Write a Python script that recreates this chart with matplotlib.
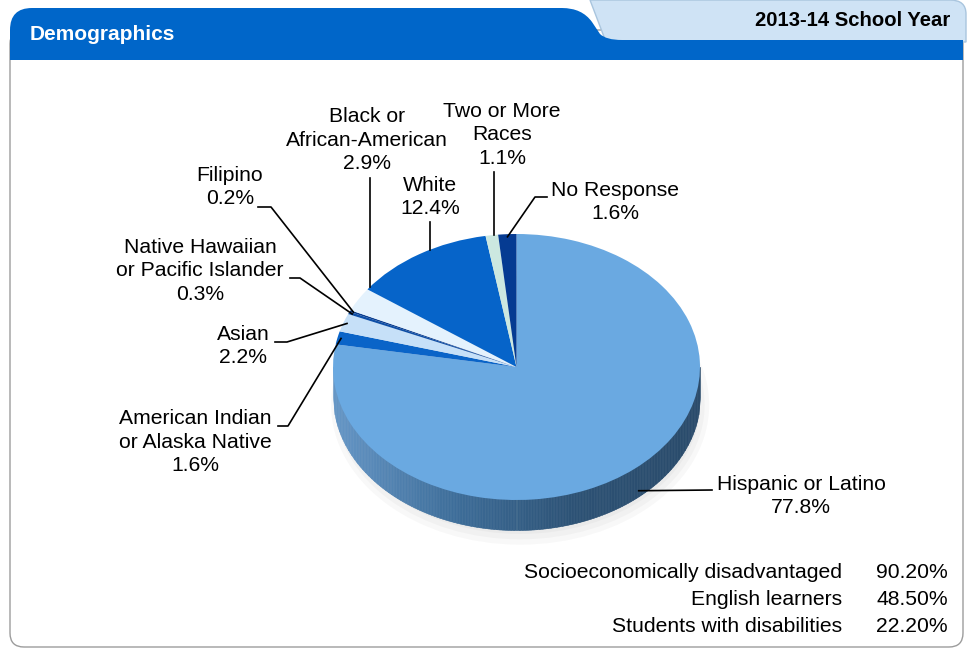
import numpy as np
import matplotlib.pyplot as plt
from matplotlib.patches import FancyBboxPatch, PathPatch, Ellipse
from matplotlib.path import Path
from matplotlib.colors import LinearSegmentedColormap

plt.rcParams['font.family'] = ['Liberation Sans', 'DejaVu Sans']

# data (clockwise from 12 o'clock)
groups = ['Hispanic or Latino', 'American Indian\nor Alaska Native', 'Asian',
          'Native Hawaiian\nor Pacific Islander', 'Filipino', 'Black or\nAfrican-American',
          'White', 'Two or More\nRaces', 'No Response']
shares = [77.8, 1.6, 2.2, 0.3, 0.2, 2.9, 12.4, 1.1, 1.6]
slice_colors = ['#6aa9e1', '#0a64c8', '#c6e0f8', '#0d4fa8', '#0a3d8f',
                '#e4f2fd', '#0664c9', '#cce8e0', '#053b92']

extra_labels = ['Socioeconomically disadvantaged', 'English learners', 'Students with disabilities']
extra_values = [90.20, 48.50, 22.20]

title = 'Demographics'
year = '2013-14 School Year'

W, H = 969, 651
FS = 15.2
fig = plt.figure(figsize=(W / 100, H / 100), dpi=100)

# bottom layer: panel + header
base = fig.add_axes([0, 0, 1, 1], zorder=0)
base.set_xlim(0, W)
base.set_ylim(H, 0)
base.axis('off')
base.add_patch(FancyBboxPatch((10, 30), 953, 617, boxstyle='round,pad=0,rounding_size=14',
                              fc='white', ec='#9c9c9c', lw=1.0))
M, L, C = Path.MOVETO, Path.LINETO, Path.CURVE3
tab = Path([(590, 0), (950, 0), (966, 0), (966, 14), (966, 42), (606, 42), (590, 0)],
           [M, L, C, C, L, L, L])
base.add_patch(PathPatch(tab, fc='#cfe3f5', ec='#a9c5de', lw=1.0))
band = Path([(10, 60), (10, 30), (10, 8), (32, 8), (562, 8), (582, 8), (592, 22),
             (600, 34), (606, 40), (622, 40), (963, 40), (963, 60), (10, 60)],
            [M, L, C, C, L, C, C, L, C, C, L, L, L])
base.add_patch(PathPatch(band, fc='#0066c9', ec='none'))
base.text(30, 34, title, color='white', fontsize=15, fontweight='bold', va='center')
base.text(950, 20, year, color='black', fontsize=14.6, fontweight='bold', va='center', ha='right')

# pie axes: unit circle mapped onto the tilted ellipse
cx, cy, rx, ry = 516.5, 367, 183.5, 133
depth = 30 / ry
pa = fig.add_axes([0, 0, 1, 1], zorder=1)
pa.axis('off')

for k, a in enumerate([0.05, 0.05, 0.05]):
    pa.add_patch(Ellipse((0.02, -depth - 0.06), 2.06 - 0.05 * k, 2.1 - 0.08 * k,
                         fc='#777777', ec='none', alpha=a))

side = LinearSegmentedColormap.from_list('side', ['#6596c6', '#3d6d99', '#2c5174', '#2a4b6b'])
xs = np.linspace(-1, 1, 240)
for i in range(len(xs) - 1):
    x = xs[i:i + 2]
    col = side(i / (len(xs) - 2))
    pa.fill_between(x, -np.sqrt(np.clip(1 - x ** 2, 0, None)) - depth, 0, color=col, lw=0.4, ec=col)

wedges, _ = pa.pie(shares, colors=slice_colors, startangle=90, counterclock=False,
                   radius=1, wedgeprops=dict(lw=0))
pa.set_aspect('auto')
pa.set_xlim(-cx / rx, (W - cx) / rx)
pa.set_ylim((cy - H) / ry, cy / ry)

# top layer: labels and leaders (pixel coordinates)
bg = fig.add_axes([0, 0, 1, 1], zorder=2)
bg.set_xlim(0, W)
bg.set_ylim(H, 0)
bg.axis('off')
bg.patch.set_visible(False)


def rim(theta, r=0.98):
    t = np.radians(theta)
    return cx + rx * r * np.cos(t), cy - ry * r * np.sin(t)


def rim_at_x(px):
    xn = (px - cx) / rx
    return cy - ry * np.sqrt(1 - xn ** 2)


# label layout: text centre, leader shape
layout = {
    'Hispanic or Latino': ((801, 496), 'h', [(712, 490)]),
    'American Indian\nor Alaska Native': ((195, 442), 'e', [(278, 426), (288, 426)]),
    'Asian': ((243, 346), 'e', [(275, 342), (287, 342)]),
    'Native Hawaiian\nor Pacific Islander': ((200, 271), 'e', [(290, 278), (300, 278)]),
    'Filipino': ((230, 187), 'e', [(258, 207), (271, 207)]),
    'Black or\nAfrican-American': ((367, 140), 'v', [(370, 178)]),
    'White': ((430, 197), 'v', [(430, 222)]),
    'Two or More\nRaces': ((502, 135), 'v', [(494, 172)]),
    'No Response': ((615, 202), 'e', [(547, 197), (535, 197)]),
}

for w, name, val in zip(wedges, groups, shares):
    (tx, ty), kind, pts = layout[name]
    bg.text(tx, ty, f'{name}\n{val}%', ha='center', va='center', fontsize=FS,
            linespacing=1.31)
    mid = (w.theta1 + w.theta2) / 2
    if kind == 'v':
        px, py0 = pts[0]
        xs_l, ys_l = [px, px], [py0, rim_at_x(px)]
    elif kind == 'h':
        ex, ey = rim(mid, 1.0)
        xs_l, ys_l = [pts[0][0], ex + 4], [pts[0][1], ey + 22]
    else:
        ex, ey = rim(mid)
        xs_l = [p[0] for p in pts] + [ex]
        ys_l = [p[1] for p in pts] + [ey]
    bg.plot(xs_l, ys_l, color='black', lw=1.2)

# bottom table
for i, (lab, v) in enumerate(zip(extra_labels, extra_values)):
    y = 573 + 26.5 * i
    bg.text(842, y, lab, ha='right', va='center', fontsize=FS)
    bg.text(948, y, f'{v:.2f}%', ha='right', va='center', fontsize=FS)

fig.savefig('out.png', dpi=100)
